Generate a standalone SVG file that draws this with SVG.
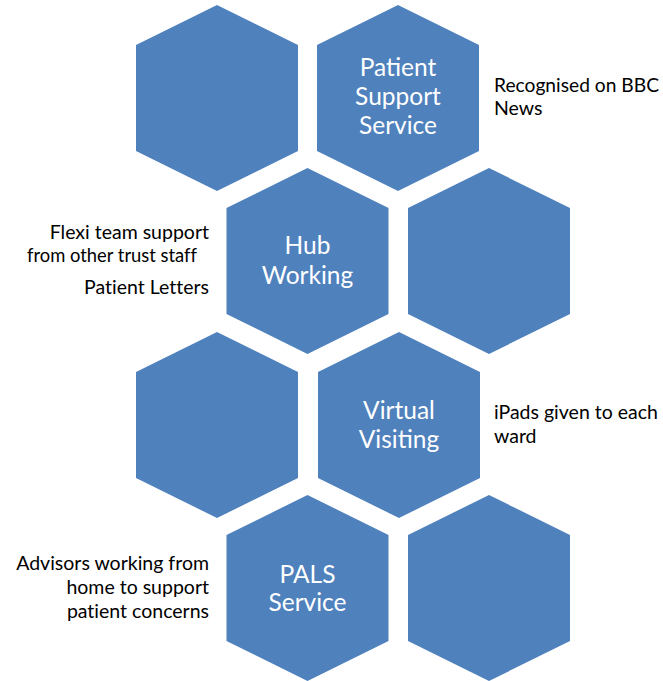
<svg xmlns="http://www.w3.org/2000/svg" width="663" height="681" viewBox="0 0 663 681">
<defs>
<style>
.hex{fill:#4F81BD;}
.ht{fill:#FFFFFF;font-family:Lato,"Open Sans",sans-serif;font-size:24.5px;text-anchor:middle;}
.st{fill:#000000;font-family:Lato,"Open Sans",sans-serif;font-size:19.5px;font-variant-ligatures:none;font-feature-settings:"liga" 0;}
.r{text-anchor:end;}
</style>
<polygon id="hexshape" points="0,-93 81,-53 81,53 0,93 -81,53 -81,-53"/>
</defs>
<rect width="663" height="681" fill="#FFFFFF"/>
<g id="hex1"><use href="#hexshape" class="hex" x="217" y="98"/></g>
<g id="hex2"><use href="#hexshape" class="hex" x="398" y="98"/>
<text class="ht" x="398" y="76">Patient</text>
<text class="ht" x="398" y="105">Support</text>
<text class="ht" x="398" y="134">Service</text></g>
<g id="hex3"><use href="#hexshape" class="hex" x="307.5" y="261"/>
<text class="ht" x="307.5" y="254">Hub</text>
<text class="ht" x="307.5" y="284">Working</text></g>
<g id="hex4"><use href="#hexshape" class="hex" x="489" y="261"/></g>
<g id="hex5"><use href="#hexshape" class="hex" x="217" y="425"/></g>
<g id="hex6"><use href="#hexshape" class="hex" x="399" y="425"/>
<text class="ht" x="399" y="419">Virtual</text>
<text class="ht" x="399" y="448">Visiting</text></g>
<g id="hex7"><use href="#hexshape" class="hex" x="307.5" y="588"/>
<text class="ht" x="307.5" y="583">PALS</text>
<text class="ht" x="307.5" y="611">Service</text></g>
<g id="hex8"><use href="#hexshape" class="hex" x="489" y="588"/></g>
<g id="labels">
<text class="st" x="494" y="92" textLength="165" lengthAdjust="spacingAndGlyphs">Recognised on BBC</text>
<text class="st" x="494" y="115">News</text>
<text class="st r" x="209" y="239">Flexi team support</text>
<text class="st" x="27" y="262" textLength="170" lengthAdjust="spacingAndGlyphs">from other trust staff</text>
<text class="st r" x="209" y="294">Patient Letters</text>
<text class="st" x="494" y="419">iPads given to each</text>
<text class="st" x="494" y="443">ward</text>
<text class="st r" x="209" y="570">Advisors working from</text>
<text class="st r" x="209" y="594">home to support</text>
<text class="st r" x="209" y="618">patient concerns</text>
</g>
<g id="connectors"></g>
</svg>
